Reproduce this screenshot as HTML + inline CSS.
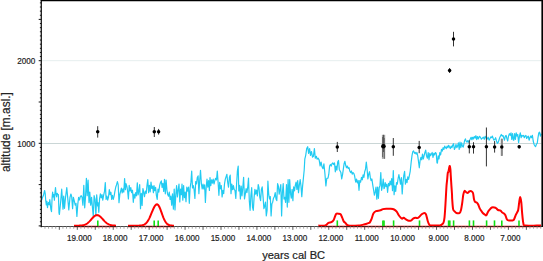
<!DOCTYPE html><html><head><meta charset="utf-8"><style>html,body{margin:0;padding:0;background:#fff;}svg{display:block}</style></head><body>
<svg width="543" height="261" viewBox="0 0 543 261" font-family="Liberation Sans, sans-serif">
<rect width="543" height="261" fill="#fff"/>
<line x1="41.3" y1="60.7" x2="541.3" y2="60.7" stroke="#e6eeee" stroke-width="1"/>
<line x1="41.3" y1="143.5" x2="541.3" y2="143.5" stroke="#cad6d6" stroke-width="1"/>
<polyline fill="none" stroke="#22cbf2" stroke-width="1.2" stroke-linejoin="round" points="41.7,200.2 42.3,197.9 43.4,195.6 44.6,190.5 45.2,193.3 45.7,200.2 46.3,204.8 46.9,201.4 47.5,207.7 48.0,203.7 48.6,202.5 49.2,204.8 49.8,199.7 50.3,204.3 50.9,209.4 51.5,211.7 52.1,197.9 52.6,192.2 53.2,196.8 53.8,194.5 54.4,200.2 54.9,193.3 55.5,187.6 56.1,194.5 56.7,196.8 57.2,193.3 57.8,194.5 58.4,194.5 59.0,212.9 59.4,214.5 60.7,201.4 61.7,189.2 63.0,209.1 63.7,196.1 64.5,208.3 65.6,196.8 66.8,187.7 67.9,199.9 68.8,209.9 70.0,197.4 70.9,194.0 71.7,196.6 72.6,208.6 73.4,197.4 74.3,200.9 75.2,205.2 76.0,203.4 76.9,216.4 77.8,204.3 78.6,197.4 79.5,200.0 80.3,196.6 81.2,195.7 82.1,197.4 82.9,205.2 83.8,185.3 84.7,207.8 85.5,197.4 86.4,178.4 87.2,195.7 88.1,180.2 89.0,202.6 89.8,192.2 90.7,205.2 91.6,197.4 92.4,206.9 93.3,216.5 94.1,195.7 95.0,199.1 95.9,215.5 96.7,194.8 97.6,206.0 98.0,202.6 98.8,212.3 99.6,198.6 100.4,193.8 101.2,197.8 102.0,194.6 102.8,200.2 103.6,195.4 104.5,191.4 105.3,182.5 106.1,199.4 106.9,196.2 107.7,200.2 108.5,197.0 109.3,189.7 110.1,194.6 110.9,192.2 111.7,199.4 112.5,195.4 113.3,199.4 114.1,196.2 114.9,191.4 115.7,187.3 116.5,184.9 117.4,181.7 118.2,184.9 119.0,202.6 119.8,194.6 120.6,191.4 121.4,188.1 122.2,193.0 123.0,188.9 123.8,192.2 124.6,178.5 125.4,189.7 126.0,183.7 126.8,186.1 127.6,191.0 128.4,199.0 129.2,185.3 130.0,191.0 130.8,187.7 131.6,192.6 132.5,190.2 133.3,202.3 134.1,194.2 134.9,198.2 135.7,192.6 136.5,195.8 137.3,182.9 138.1,195.0 138.9,191.0 139.7,184.5 140.5,208.7 141.3,193.4 142.1,205.5 142.9,188.5 143.7,191.8 144.5,196.6 145.4,191.0 146.2,193.4 147.0,185.3 147.8,179.7 148.6,192.6 149.4,185.3 150.2,191.8 151.0,182.1 151.8,188.5 152.6,186.1 153.4,192.6 154.0,185.7 154.8,190.6 155.6,187.4 156.4,195.4 157.2,199.5 158.0,189.0 158.8,192.2 159.6,185.7 160.5,182.5 161.3,180.9 162.1,187.4 162.9,183.3 163.7,191.4 164.5,179.3 165.3,193.8 166.1,180.1 166.9,189.8 167.7,194.6 168.5,196.2 169.3,192.2 170.1,199.5 170.9,196.2 171.7,205.1 172.5,193.8 173.4,209.1 174.2,189.0 175.0,209.9 175.8,194.6 176.6,185.7 177.4,197.0 178.2,189.8 179.0,184.1 179.8,201.9 180.6,189.0 181.4,194.6 182.0,184.0 182.8,200.1 183.6,185.6 184.4,197.7 185.2,192.0 186.0,201.7 186.8,187.2 187.6,191.2 188.5,187.2 189.3,203.3 190.1,188.0 190.9,182.4 191.7,171.1 192.5,188.0 193.3,185.6 194.1,189.6 194.9,198.5 195.7,181.5 196.5,184.0 197.3,177.5 198.1,175.9 198.9,193.6 199.7,180.7 200.5,170.3 201.4,184.0 202.2,188.8 203.0,184.0 203.8,188.8 204.6,184.8 205.4,202.5 206.2,187.2 207.0,179.1 207.8,187.2 208.6,180.7 209.4,190.4 210.0,177.5 210.8,185.6 211.6,179.9 212.4,183.2 213.2,179.1 214.0,184.0 214.8,180.7 215.6,178.3 216.5,179.9 217.3,171.1 218.1,182.4 218.9,195.3 219.7,182.4 220.5,188.8 221.3,185.6 222.1,196.9 222.9,190.4 223.7,193.6 224.5,184.0 225.3,179.1 226.1,176.7 226.9,174.3 227.7,182.4 228.5,187.2 229.4,177.5 230.2,175.1 231.0,193.6 231.8,184.0 232.6,189.6 233.4,185.6 234.2,189.6 235.0,190.4 235.8,198.5 236.6,184.0 237.4,171.1 238.2,166.0 238.8,191.0 239.6,185.3 240.4,199.0 241.2,186.1 242.0,195.8 242.8,187.7 243.6,177.3 244.5,199.0 245.3,194.2 246.1,188.5 246.9,192.6 247.7,187.7 248.5,178.1 249.3,200.6 250.1,210.3 250.9,195.8 251.7,187.7 252.5,207.1 253.3,210.3 254.1,197.4 254.9,189.4 255.7,194.2 256.5,190.2 257.4,195.8 258.2,184.5 259.0,187.7 259.8,197.4 260.6,200.6 261.4,189.4 262.2,186.9 263.1,197.4 263.9,208.6 264.7,206.2 265.5,202.2 266.3,215.9 267.1,210.3 267.9,181.2 268.7,194.1 269.5,199.0 270.3,196.5 271.1,215.9 271.9,203.8 272.7,202.2 273.5,198.2 274.4,196.5 275.2,192.5 276.0,199.0 276.8,200.6 277.6,183.6 278.4,186.1 279.2,194.1 280.0,189.4 280.8,184.5 281.6,216.0 282.4,192.6 283.2,183.7 284.0,199.0 284.8,197.4 285.6,202.3 286.5,184.5 287.3,207.1 288.1,179.7 288.9,202.3 289.7,179.7 290.5,193.4 291.3,198.2 292.1,189.4 292.9,200.6 293.7,186.9 294.5,191.0 295.3,185.3 296.1,182.1 296.9,189.4 297.7,180.5 298.5,192.6 299.4,184.5 300.2,179.7 301.0,186.1 301.8,196.6 302.6,186.1 303.4,178.1 304.2,170.0 304.8,159.2 305.7,155.3 306.7,148.6 307.7,146.7 308.6,153.4 309.6,148.6 310.5,155.3 311.5,151.5 312.5,157.2 313.4,156.3 314.4,148.6 315.3,158.2 316.3,156.3 317.2,159.2 318.2,158.2 319.2,160.1 320.1,165.9 321.1,162.0 322.0,166.8 323.0,168.7 323.9,163.9 324.9,173.5 325.9,186.0 326.8,178.3 328.0,178.2 328.8,174.2 329.6,166.1 330.4,164.5 331.2,166.1 332.0,163.7 332.8,162.9 333.6,164.5 334.5,162.9 335.3,171.8 336.1,166.1 336.9,170.2 337.7,162.1 338.5,160.5 339.3,169.4 340.1,171.0 340.9,172.6 341.7,179.0 342.5,175.0 343.3,169.4 344.1,163.7 344.9,161.3 345.7,165.3 346.5,167.7 347.4,166.1 348.2,168.5 349.0,167.7 349.8,171.0 350.6,172.6 351.4,171.0 352.2,174.2 353.0,172.6 353.8,173.4 354.6,175.8 355.4,180.6 355.8,182.2 356.6,179.0 357.4,183.0 358.2,180.6 359.0,190.3 359.8,180.6 360.6,182.2 361.5,177.4 362.3,179.8 363.1,174.9 363.9,177.4 364.7,171.7 365.5,169.3 366.3,162.0 367.1,169.3 367.9,179.0 368.7,174.1 369.5,171.7 370.3,177.4 371.1,180.6 371.9,179.0 372.7,184.6 373.5,189.5 374.4,195.1 375.2,191.9 376.0,187.0 376.8,199.1 377.6,187.0 378.4,198.3 379.2,187.8 380.0,185.4 380.8,172.5 381.6,190.3 382.4,186.2 383.2,179.0 384.0,188.6 384.4,188.2 385.2,182.6 386.0,186.6 386.8,184.2 387.6,192.3 388.5,183.4 389.3,185.8 390.1,181.0 390.9,185.0 391.7,178.5 392.5,190.6 393.3,170.5 394.1,194.7 394.9,185.8 395.7,191.5 396.5,182.6 397.3,184.2 398.1,178.5 398.9,174.5 399.7,179.4 400.5,184.2 401.4,177.7 402.2,193.9 403.0,182.6 403.8,175.3 404.6,171.3 405.4,184.2 406.2,179.4 407.0,182.6 407.8,176.9 408.6,179.4 409.4,175.3 410.2,171.3 411.2,162.0 412.0,155.7 412.8,151.7 413.6,150.9 414.5,153.3 415.3,152.5 416.1,154.1 416.9,152.5 417.7,155.7 418.5,161.4 419.3,167.8 420.1,160.6 420.9,157.4 421.7,159.8 422.5,154.1 423.3,159.0 424.1,155.7 424.9,152.5 425.7,150.1 426.5,155.7 427.4,158.2 428.2,152.5 429.0,159.8 429.8,153.3 430.6,155.7 431.4,154.1 432.2,152.5 433.0,157.4 433.8,153.3 434.6,154.9 435.4,152.5 436.2,153.3 437.0,163.0 437.4,163.1 438.2,155.8 439.0,159.0 439.8,152.6 440.6,155.0 441.5,149.4 442.3,151.0 443.1,147.7 443.9,149.4 444.7,146.1 445.5,147.7 446.3,148.5 447.1,146.1 447.9,147.7 448.7,145.3 449.5,146.9 450.3,148.5 451.1,146.1 451.9,147.7 452.7,145.3 453.5,143.7 454.4,149.4 455.2,147.7 456.0,144.5 456.8,147.7 457.6,146.1 458.4,142.9 459.2,149.4 460.0,142.1 460.8,147.7 461.6,142.9 462.4,146.1 463.2,147.0 463.8,144.6 464.6,140.5 465.4,138.9 466.2,141.4 467.0,142.2 467.8,140.5 468.6,142.2 469.5,140.5 470.3,138.9 471.1,137.3 471.9,139.7 472.7,137.3 473.5,138.9 474.3,136.5 475.1,138.1 475.9,135.7 476.7,139.7 477.5,136.5 478.3,138.9 479.5,136.3 480.4,137.2 481.4,139.2 482.4,138.2 483.3,137.2 484.3,139.2 485.2,136.3 486.2,138.2 487.1,139.2 488.1,137.2 489.1,140.1 490.0,138.5 490.8,136.9 491.6,137.7 492.4,136.1 493.2,138.5 494.0,140.2 494.8,139.4 495.6,137.7 496.5,141.0 497.3,143.4 498.1,142.6 498.9,140.2 499.7,137.7 500.5,136.1 501.3,134.5 502.1,136.1 502.9,135.3 503.7,137.7 504.5,140.2 505.3,136.1 506.1,135.3 506.9,138.5 507.7,141.0 508.5,136.1 509.4,133.7 510.2,135.3 511.0,132.9 511.8,139.4 512.6,133.7 513.4,140.2 513.8,140.2 514.6,133.7 515.4,139.4 516.2,132.9 517.0,136.1 517.8,134.5 518.6,142.6 519.5,136.1 520.3,132.9 521.1,137.7 521.9,135.3 522.7,136.1 523.5,135.3 524.3,137.7 525.1,136.1 525.9,135.3 526.7,138.5 527.5,136.9 528.3,136.1 529.1,140.2 529.9,137.7 530.7,136.1 531.5,137.7 532.4,135.3 533.2,141.0 534.0,144.2 534.8,145.8 535.6,146.6 536.4,144.2 537.2,143.4 538.0,137.7 538.8,132.9 539.6,132.1 540.4,136.1 541.2,133.7"/>
<polyline fill="none" stroke="#ff0000" stroke-width="2" stroke-linejoin="round" points="74.00,225.70 74.50,225.70 75.00,225.70 75.50,225.69 76.00,225.69 76.50,225.69 77.00,225.68 77.50,225.68 78.00,225.67 78.50,225.65 79.00,225.64 79.50,225.62 80.00,225.59 80.50,225.56 81.00,225.52 81.50,225.47 82.00,225.41 82.50,225.33 83.00,225.23 83.50,225.12 84.00,224.98 84.50,224.82 85.00,224.63 85.50,224.41 86.00,224.16 86.50,223.87 87.00,223.55 87.50,223.19 88.00,222.79 88.50,222.35 89.00,221.88 89.50,221.38 90.00,220.85 90.50,220.30 91.00,219.73 91.50,219.16 92.00,218.58 92.50,218.02 93.00,217.49 93.50,216.98 94.00,216.52 94.50,216.11 95.00,215.75 95.50,215.47 96.00,215.27 96.50,215.14 97.00,215.10 97.50,215.14 98.00,215.26 98.50,215.45 99.00,215.71 99.50,216.04 100.00,216.43 100.50,216.86 101.00,217.34 101.50,217.86 102.00,218.39 102.50,218.94 103.00,219.49 103.50,220.04 104.00,220.58 104.50,221.11 105.00,221.61 105.50,222.08 106.00,222.52 106.50,222.93 107.00,223.30 107.50,223.64 108.00,223.95 108.50,224.22 109.00,224.45 109.50,224.66 110.00,224.84 110.50,224.99 111.00,225.12 111.50,225.23 112.00,225.33 112.50,225.40 113.00,225.46 113.50,225.51 114.00,225.56 114.50,225.59 115.00,225.61 115.50,225.63 116.00,225.65"/>
<polyline fill="none" stroke="#ff0000" stroke-width="2" stroke-linejoin="round" points="128.00,225.70 128.50,225.70 129.00,225.70 129.50,225.70 130.00,225.70 130.50,225.70 131.00,225.70 131.50,225.70 132.00,225.70 132.50,225.70 133.00,225.70 133.50,225.70 134.00,225.70 134.50,225.70 135.00,225.70 135.50,225.69 136.00,225.69 136.50,225.69 137.00,225.68 137.50,225.68 138.00,225.67 138.50,225.65 139.00,225.63 139.50,225.61 140.00,225.58 140.50,225.53 141.00,225.48 141.50,225.40 142.00,225.31 142.50,225.19 143.00,225.05 143.50,224.87 144.00,224.64 144.50,224.37 145.00,224.05 145.50,223.67 146.00,223.22 146.50,222.69 147.00,222.09 147.50,221.41 148.00,220.64 148.50,219.79 149.00,218.85 149.50,217.84 150.00,216.75 150.50,215.61 151.00,214.42 151.50,213.21 152.00,211.99 152.50,210.78 153.00,209.60 153.50,208.49 154.00,207.47 154.50,206.55 155.00,205.77 155.50,205.14 156.00,204.68 156.50,204.40 157.00,204.30 157.50,204.43 158.00,204.80 158.50,205.41 159.00,206.23 159.50,207.24 160.00,208.40 160.50,209.68 161.00,211.04 161.50,212.44 162.00,213.85 162.50,215.23 163.00,216.56 163.50,217.81 164.00,218.98 164.50,220.04 165.00,220.98 165.50,221.82 166.00,222.54 166.50,223.16 167.00,223.69 167.50,224.12 168.00,224.47 168.50,224.76 169.00,224.99 169.50,225.17 170.00,225.31 170.50,225.41 171.00,225.49 171.50,225.55 172.00,225.59 172.50,225.63 173.00,225.65 173.50,225.67 174.00,225.68"/>
<path fill="none" stroke="#ff0000" stroke-width="2" stroke-linejoin="round" d="M318.40,225.60 C319.55,225.58 323.63,225.95 325.30,225.50 C326.97,225.05 327.38,223.45 328.40,222.90 C329.42,222.35 330.52,222.70 331.40,222.20 C332.28,221.70 332.93,221.23 333.70,219.90 C334.47,218.57 335.23,215.23 336.00,214.20 C336.77,213.17 337.53,213.70 338.30,213.70 C339.07,213.70 339.95,213.55 340.60,214.20 C341.25,214.85 341.68,216.40 342.20,217.60 C342.72,218.80 343.15,220.52 343.70,221.40 C344.25,222.28 344.73,222.20 345.50,222.90 C346.27,223.60 346.05,225.15 348.30,225.60 C350.55,226.05 356.70,225.72 359.00,225.60 C361.30,225.48 360.95,225.17 362.10,224.90 C363.25,224.63 364.75,224.33 365.90,224.00 C367.05,223.67 368.32,223.22 369.00,222.90 C369.68,222.58 369.55,222.82 370.00,222.10 C370.45,221.38 371.13,220.05 371.70,218.60 C372.27,217.15 372.68,214.63 373.40,213.40 C374.12,212.17 374.98,211.68 376.00,211.20 C377.02,210.72 378.63,210.70 379.50,210.50 C380.37,210.30 380.63,210.23 381.20,210.00 C381.77,209.77 382.03,209.30 382.90,209.10 C383.77,208.90 385.10,208.85 386.40,208.80 C387.70,208.75 389.42,208.68 390.70,208.80 C391.98,208.92 393.10,209.02 394.10,209.50 C395.10,209.98 395.83,210.62 396.70,211.70 C397.57,212.78 398.43,214.85 399.30,216.00 C400.17,217.15 401.18,218.30 401.90,218.60 C402.62,218.90 402.88,217.65 403.60,217.80 C404.32,217.95 405.33,219.02 406.20,219.50 C407.07,219.98 407.93,220.57 408.80,220.70 C409.67,220.83 410.68,220.65 411.40,220.30 C412.12,219.95 412.38,219.02 413.10,218.60 C413.82,218.18 414.98,217.88 415.70,217.80 C416.42,217.72 416.83,218.25 417.40,218.10 C417.97,217.95 418.38,217.53 419.10,216.90 C419.82,216.27 420.83,214.97 421.70,214.30 C422.57,213.63 423.58,212.90 424.30,212.90 C425.02,212.90 425.42,212.92 426.00,214.30 C426.58,215.68 427.22,219.42 427.80,221.20 C428.38,222.98 428.78,224.28 429.50,225.00 C430.22,225.72 430.35,225.42 432.10,225.50 C433.85,225.58 438.50,225.60 440.00,225.50 C441.50,225.40 440.53,225.33 441.10,224.90 C441.67,224.47 442.83,224.12 443.40,222.90 C443.97,221.68 444.17,220.53 444.50,217.60 C444.83,214.67 445.15,209.13 445.40,205.30 C445.65,201.47 445.82,197.82 446.00,194.60 C446.18,191.38 446.32,188.42 446.50,186.00 C446.68,183.58 446.88,182.30 447.10,180.10 C447.32,177.90 447.58,174.13 447.80,172.80 C448.02,171.47 448.18,172.88 448.40,172.10 C448.62,171.32 448.87,169.12 449.10,168.10 C449.33,167.08 449.58,165.78 449.80,166.00 C450.02,166.22 450.23,167.72 450.40,169.40 C450.57,171.08 450.63,173.42 450.80,176.10 C450.97,178.78 451.20,182.48 451.40,185.50 C451.60,188.52 451.87,191.92 452.00,194.20 C452.13,196.48 452.02,196.72 452.20,199.20 C452.38,201.68 452.70,207.07 453.10,209.10 C453.50,211.13 454.05,210.75 454.60,211.40 C455.15,212.05 455.58,212.73 456.40,213.00 C457.22,213.27 458.73,213.52 459.50,213.00 C460.27,212.48 460.53,211.68 461.00,209.90 C461.47,208.12 461.92,204.85 462.30,202.30 C462.68,199.75 462.93,196.50 463.30,194.60 C463.67,192.70 464.03,191.30 464.50,190.90 C464.97,190.50 465.53,191.87 466.10,192.20 C466.67,192.53 467.38,193.02 467.90,192.90 C468.42,192.78 468.65,191.80 469.20,191.50 C469.75,191.20 470.57,190.85 471.20,191.10 C471.83,191.35 472.53,191.65 473.00,193.00 C473.47,194.35 473.65,197.72 474.00,199.20 C474.35,200.68 474.65,201.33 475.10,201.90 C475.55,202.47 476.18,202.17 476.70,202.60 C477.22,203.03 477.70,203.53 478.20,204.50 C478.70,205.47 479.20,207.37 479.70,208.40 C480.20,209.43 480.68,209.93 481.20,210.70 C481.72,211.47 482.20,212.37 482.80,213.00 C483.40,213.63 484.22,214.12 484.80,214.50 C485.38,214.88 485.80,215.68 486.30,215.30 C486.80,214.92 487.28,213.10 487.80,212.20 C488.32,211.30 488.72,210.68 489.40,209.90 C490.08,209.12 491.05,207.90 491.90,207.50 C492.75,207.10 493.78,207.37 494.50,207.50 C495.22,207.63 495.62,207.88 496.20,208.30 C496.78,208.72 497.28,209.62 498.00,210.00 C498.72,210.38 499.78,210.17 500.50,210.60 C501.22,211.03 501.72,212.12 502.30,212.60 C502.88,213.08 503.48,213.07 504.00,213.50 C504.52,213.93 504.97,214.33 505.40,215.20 C505.83,216.07 506.12,217.83 506.60,218.70 C507.08,219.57 507.30,220.12 508.30,220.40 C509.30,220.68 511.65,220.55 512.60,220.40 C513.55,220.25 513.48,220.37 514.00,219.50 C514.52,218.63 515.20,216.35 515.70,215.20 C516.20,214.05 516.58,213.47 517.00,212.60 C517.42,211.73 517.83,211.72 518.20,210.00 C518.57,208.28 518.87,204.45 519.20,202.30 C519.53,200.15 519.85,197.10 520.20,197.10 C520.55,197.10 520.98,199.72 521.30,202.30 C521.62,204.88 521.77,209.15 522.10,212.60 C522.43,216.05 522.80,220.83 523.30,223.00 C523.80,225.17 522.85,225.17 525.10,225.60 C527.35,226.03 534.15,225.60 536.80,225.60 C539.45,225.60 540.30,225.60 541.00,225.60"/>
<line x1="74" y1="226.5" x2="116" y2="226.5" stroke="#ff0000" stroke-width="1.3"/>
<line x1="128" y1="226.5" x2="174" y2="226.5" stroke="#ff0000" stroke-width="1.3"/>
<line x1="318.4" y1="226.5" x2="541.3" y2="226.5" stroke="#ff0000" stroke-width="1.3"/>
<line x1="97.8" y1="220.4" x2="97.8" y2="226" stroke="#12e012" stroke-width="1.6"/>
<line x1="154.2" y1="220.4" x2="154.2" y2="226" stroke="#12e012" stroke-width="1.6"/>
<line x1="158.2" y1="220.4" x2="158.2" y2="226" stroke="#12e012" stroke-width="1.6"/>
<line x1="337.3" y1="220.4" x2="337.3" y2="226" stroke="#12e012" stroke-width="1.6"/>
<line x1="382.9" y1="220.4" x2="382.9" y2="226" stroke="#12e012" stroke-width="1.6"/>
<line x1="384.0" y1="220.4" x2="384.0" y2="226" stroke="#12e012" stroke-width="1.6"/>
<line x1="393.6" y1="220.4" x2="393.6" y2="226" stroke="#12e012" stroke-width="1.6"/>
<line x1="419.5" y1="220.4" x2="419.5" y2="226" stroke="#12e012" stroke-width="1.6"/>
<line x1="448.6" y1="220.4" x2="448.6" y2="226" stroke="#12e012" stroke-width="1.6"/>
<line x1="449.8" y1="220.4" x2="449.8" y2="226" stroke="#12e012" stroke-width="1.6"/>
<line x1="453.6" y1="220.4" x2="453.6" y2="226" stroke="#12e012" stroke-width="1.6"/>
<line x1="469.4" y1="220.4" x2="469.4" y2="226" stroke="#12e012" stroke-width="1.6"/>
<line x1="473.5" y1="220.4" x2="473.5" y2="226" stroke="#12e012" stroke-width="1.6"/>
<line x1="486.6" y1="220.4" x2="486.6" y2="226" stroke="#12e012" stroke-width="1.6"/>
<line x1="494.5" y1="220.4" x2="494.5" y2="226" stroke="#12e012" stroke-width="1.6"/>
<line x1="501.8" y1="220.4" x2="501.8" y2="226" stroke="#12e012" stroke-width="1.6"/>
<line x1="519.0" y1="220.4" x2="519.0" y2="226" stroke="#12e012" stroke-width="1.6"/>
<line x1="97.7" y1="126.2" x2="97.7" y2="137.6" stroke="#333" stroke-width="1"/>
<line x1="154.3" y1="127" x2="154.3" y2="137" stroke="#333" stroke-width="1"/>
<line x1="158.6" y1="128.9" x2="158.6" y2="134.6" stroke="#333" stroke-width="1"/>
<line x1="337.3" y1="141.9" x2="337.3" y2="152" stroke="#333" stroke-width="1"/>
<line x1="393.3" y1="138" x2="393.3" y2="155.8" stroke="#333" stroke-width="1"/>
<line x1="419.2" y1="140.9" x2="419.2" y2="153.2" stroke="#333" stroke-width="1"/>
<line x1="453.5" y1="31.8" x2="453.5" y2="46.4" stroke="#333" stroke-width="1"/>
<line x1="449.6" y1="68" x2="449.6" y2="73" stroke="#333" stroke-width="1"/>
<line x1="469.3" y1="140.3" x2="469.3" y2="153.4" stroke="#333" stroke-width="1"/>
<line x1="473.5" y1="142.2" x2="473.5" y2="153.6" stroke="#333" stroke-width="1"/>
<line x1="486.4" y1="127.5" x2="486.4" y2="166.4" stroke="#333" stroke-width="1"/>
<line x1="494.6" y1="141.1" x2="494.6" y2="152.6" stroke="#333" stroke-width="1"/>
<line x1="501.8" y1="138.8" x2="501.8" y2="155.7" stroke="#333" stroke-width="1"/>
<line x1="519.2" y1="145" x2="519.2" y2="148.6" stroke="#333" stroke-width="1"/>
<rect x="381.9" y="134.8" width="3.3" height="24" fill="#a0a0a0"/>
<line x1="382.6" y1="137" x2="382.6" y2="157" stroke="#555" stroke-width="0.8"/>
<line x1="384.5" y1="138" x2="384.5" y2="158.8" stroke="#666" stroke-width="0.8"/>
<line x1="383.5" y1="134.8" x2="383.5" y2="152" stroke="#444" stroke-width="0.8"/>
<rect x="500.8" y="138.8" width="2" height="17" fill="#888"/>
<circle cx="97.7" cy="131.8" r="1.75" fill="#000"/>
<circle cx="154.3" cy="131.8" r="1.75" fill="#000"/>
<circle cx="158.6" cy="131.8" r="1.75" fill="#000"/>
<circle cx="337.3" cy="147" r="1.75" fill="#000"/>
<circle cx="393.3" cy="146.8" r="1.75" fill="#000"/>
<circle cx="419.2" cy="147.4" r="1.75" fill="#000"/>
<circle cx="453.5" cy="39.1" r="1.75" fill="#000"/>
<circle cx="449.6" cy="70.5" r="1.75" fill="#000"/>
<circle cx="469.3" cy="146.8" r="1.75" fill="#000"/>
<circle cx="473.5" cy="146.8" r="1.75" fill="#000"/>
<circle cx="486.4" cy="146.8" r="1.75" fill="#000"/>
<circle cx="494.6" cy="147.1" r="1.75" fill="#000"/>
<circle cx="501.8" cy="147.1" r="1.75" fill="#000"/>
<circle cx="519.2" cy="146.8" r="1.75" fill="#000"/>
<circle cx="383.4" cy="146.3" r="2.3" fill="#000"/>
<line x1="41.3" y1="0" x2="41.3" y2="227.2" stroke="#1a1a1a" stroke-width="1.3"/>
<line x1="40.699999999999996" y1="226.5" x2="541.9" y2="226.5" stroke="#1a1a1a" stroke-width="1.1" stroke-opacity="0.8"/>
<line x1="40.699999999999996" y1="0.6" x2="541.9" y2="0.6" stroke="#000" stroke-width="1.4"/>
<rect x="541.4" y="0" width="1.6" height="227" fill="#000"/>
<line x1="38.70" y1="225.90" x2="41.3" y2="225.90" stroke="#111" stroke-width="1"/>
<line x1="39.90" y1="221.77" x2="41.3" y2="221.77" stroke="#111" stroke-width="1"/>
<line x1="39.90" y1="217.64" x2="41.3" y2="217.64" stroke="#111" stroke-width="1"/>
<line x1="39.90" y1="213.51" x2="41.3" y2="213.51" stroke="#111" stroke-width="1"/>
<line x1="39.90" y1="209.38" x2="41.3" y2="209.38" stroke="#111" stroke-width="1"/>
<line x1="39.90" y1="205.25" x2="41.3" y2="205.25" stroke="#111" stroke-width="1"/>
<line x1="39.90" y1="201.12" x2="41.3" y2="201.12" stroke="#111" stroke-width="1"/>
<line x1="39.90" y1="196.99" x2="41.3" y2="196.99" stroke="#111" stroke-width="1"/>
<line x1="39.90" y1="192.86" x2="41.3" y2="192.86" stroke="#111" stroke-width="1"/>
<line x1="39.90" y1="188.73" x2="41.3" y2="188.73" stroke="#111" stroke-width="1"/>
<line x1="38.70" y1="184.60" x2="41.3" y2="184.60" stroke="#111" stroke-width="1"/>
<line x1="39.90" y1="180.47" x2="41.3" y2="180.47" stroke="#111" stroke-width="1"/>
<line x1="39.90" y1="176.34" x2="41.3" y2="176.34" stroke="#111" stroke-width="1"/>
<line x1="39.90" y1="172.21" x2="41.3" y2="172.21" stroke="#111" stroke-width="1"/>
<line x1="39.90" y1="168.08" x2="41.3" y2="168.08" stroke="#111" stroke-width="1"/>
<line x1="39.90" y1="163.95" x2="41.3" y2="163.95" stroke="#111" stroke-width="1"/>
<line x1="39.90" y1="159.82" x2="41.3" y2="159.82" stroke="#111" stroke-width="1"/>
<line x1="39.90" y1="155.69" x2="41.3" y2="155.69" stroke="#111" stroke-width="1"/>
<line x1="39.90" y1="151.56" x2="41.3" y2="151.56" stroke="#111" stroke-width="1"/>
<line x1="39.90" y1="147.43" x2="41.3" y2="147.43" stroke="#111" stroke-width="1"/>
<line x1="38.70" y1="143.30" x2="41.3" y2="143.30" stroke="#111" stroke-width="1"/>
<line x1="39.90" y1="139.17" x2="41.3" y2="139.17" stroke="#111" stroke-width="1"/>
<line x1="39.90" y1="135.04" x2="41.3" y2="135.04" stroke="#111" stroke-width="1"/>
<line x1="39.90" y1="130.91" x2="41.3" y2="130.91" stroke="#111" stroke-width="1"/>
<line x1="39.90" y1="126.78" x2="41.3" y2="126.78" stroke="#111" stroke-width="1"/>
<line x1="39.90" y1="122.65" x2="41.3" y2="122.65" stroke="#111" stroke-width="1"/>
<line x1="39.90" y1="118.52" x2="41.3" y2="118.52" stroke="#111" stroke-width="1"/>
<line x1="39.90" y1="114.39" x2="41.3" y2="114.39" stroke="#111" stroke-width="1"/>
<line x1="39.90" y1="110.26" x2="41.3" y2="110.26" stroke="#111" stroke-width="1"/>
<line x1="39.90" y1="106.13" x2="41.3" y2="106.13" stroke="#111" stroke-width="1"/>
<line x1="38.70" y1="102.00" x2="41.3" y2="102.00" stroke="#111" stroke-width="1"/>
<line x1="39.90" y1="97.87" x2="41.3" y2="97.87" stroke="#111" stroke-width="1"/>
<line x1="39.90" y1="93.74" x2="41.3" y2="93.74" stroke="#111" stroke-width="1"/>
<line x1="39.90" y1="89.61" x2="41.3" y2="89.61" stroke="#111" stroke-width="1"/>
<line x1="39.90" y1="85.48" x2="41.3" y2="85.48" stroke="#111" stroke-width="1"/>
<line x1="39.90" y1="81.35" x2="41.3" y2="81.35" stroke="#111" stroke-width="1"/>
<line x1="39.90" y1="77.22" x2="41.3" y2="77.22" stroke="#111" stroke-width="1"/>
<line x1="39.90" y1="73.09" x2="41.3" y2="73.09" stroke="#111" stroke-width="1"/>
<line x1="39.90" y1="68.96" x2="41.3" y2="68.96" stroke="#111" stroke-width="1"/>
<line x1="39.90" y1="64.83" x2="41.3" y2="64.83" stroke="#111" stroke-width="1"/>
<line x1="38.70" y1="60.70" x2="41.3" y2="60.70" stroke="#111" stroke-width="1"/>
<line x1="39.90" y1="56.57" x2="41.3" y2="56.57" stroke="#111" stroke-width="1"/>
<line x1="39.90" y1="52.44" x2="41.3" y2="52.44" stroke="#111" stroke-width="1"/>
<line x1="39.90" y1="48.31" x2="41.3" y2="48.31" stroke="#111" stroke-width="1"/>
<line x1="39.90" y1="44.18" x2="41.3" y2="44.18" stroke="#111" stroke-width="1"/>
<line x1="39.90" y1="40.05" x2="41.3" y2="40.05" stroke="#111" stroke-width="1"/>
<line x1="39.90" y1="35.92" x2="41.3" y2="35.92" stroke="#111" stroke-width="1"/>
<line x1="39.90" y1="31.79" x2="41.3" y2="31.79" stroke="#111" stroke-width="1"/>
<line x1="39.90" y1="27.66" x2="41.3" y2="27.66" stroke="#111" stroke-width="1"/>
<line x1="39.90" y1="23.53" x2="41.3" y2="23.53" stroke="#111" stroke-width="1"/>
<line x1="38.70" y1="19.40" x2="41.3" y2="19.40" stroke="#111" stroke-width="1"/>
<line x1="39.90" y1="15.27" x2="41.3" y2="15.27" stroke="#111" stroke-width="1"/>
<line x1="39.90" y1="11.14" x2="41.3" y2="11.14" stroke="#111" stroke-width="1"/>
<line x1="39.90" y1="7.01" x2="41.3" y2="7.01" stroke="#111" stroke-width="1"/>
<line x1="39.90" y1="2.88" x2="41.3" y2="2.88" stroke="#111" stroke-width="1"/>
<line x1="44.97" y1="226.5" x2="44.97" y2="228.70" stroke="#999" stroke-width="0.9"/>
<line x1="48.56" y1="226.5" x2="48.56" y2="228.70" stroke="#999" stroke-width="0.9"/>
<line x1="52.15" y1="226.5" x2="52.15" y2="228.70" stroke="#999" stroke-width="0.9"/>
<line x1="55.74" y1="226.5" x2="55.74" y2="228.70" stroke="#999" stroke-width="0.9"/>
<line x1="59.34" y1="226.5" x2="59.34" y2="229.80" stroke="#444" stroke-width="0.9"/>
<line x1="62.93" y1="226.5" x2="62.93" y2="228.70" stroke="#999" stroke-width="0.9"/>
<line x1="66.52" y1="226.5" x2="66.52" y2="228.70" stroke="#999" stroke-width="0.9"/>
<line x1="70.11" y1="226.5" x2="70.11" y2="228.70" stroke="#999" stroke-width="0.9"/>
<line x1="73.71" y1="226.5" x2="73.71" y2="228.70" stroke="#999" stroke-width="0.9"/>
<line x1="77.30" y1="226.5" x2="77.30" y2="229.80" stroke="#444" stroke-width="0.9"/>
<line x1="80.89" y1="226.5" x2="80.89" y2="228.70" stroke="#999" stroke-width="0.9"/>
<line x1="84.48" y1="226.5" x2="84.48" y2="228.70" stroke="#999" stroke-width="0.9"/>
<line x1="88.08" y1="226.5" x2="88.08" y2="228.70" stroke="#999" stroke-width="0.9"/>
<line x1="91.67" y1="226.5" x2="91.67" y2="228.70" stroke="#999" stroke-width="0.9"/>
<line x1="95.26" y1="226.5" x2="95.26" y2="229.80" stroke="#444" stroke-width="0.9"/>
<line x1="98.85" y1="226.5" x2="98.85" y2="228.70" stroke="#999" stroke-width="0.9"/>
<line x1="102.45" y1="226.5" x2="102.45" y2="228.70" stroke="#999" stroke-width="0.9"/>
<line x1="106.04" y1="226.5" x2="106.04" y2="228.70" stroke="#999" stroke-width="0.9"/>
<line x1="109.63" y1="226.5" x2="109.63" y2="228.70" stroke="#999" stroke-width="0.9"/>
<line x1="113.22" y1="226.5" x2="113.22" y2="229.80" stroke="#444" stroke-width="0.9"/>
<line x1="116.82" y1="226.5" x2="116.82" y2="228.70" stroke="#999" stroke-width="0.9"/>
<line x1="120.41" y1="226.5" x2="120.41" y2="228.70" stroke="#999" stroke-width="0.9"/>
<line x1="124.00" y1="226.5" x2="124.00" y2="228.70" stroke="#999" stroke-width="0.9"/>
<line x1="127.59" y1="226.5" x2="127.59" y2="228.70" stroke="#999" stroke-width="0.9"/>
<line x1="131.19" y1="226.5" x2="131.19" y2="229.80" stroke="#444" stroke-width="0.9"/>
<line x1="134.78" y1="226.5" x2="134.78" y2="228.70" stroke="#999" stroke-width="0.9"/>
<line x1="138.37" y1="226.5" x2="138.37" y2="228.70" stroke="#999" stroke-width="0.9"/>
<line x1="141.96" y1="226.5" x2="141.96" y2="228.70" stroke="#999" stroke-width="0.9"/>
<line x1="145.56" y1="226.5" x2="145.56" y2="228.70" stroke="#999" stroke-width="0.9"/>
<line x1="149.15" y1="226.5" x2="149.15" y2="229.80" stroke="#444" stroke-width="0.9"/>
<line x1="152.74" y1="226.5" x2="152.74" y2="228.70" stroke="#999" stroke-width="0.9"/>
<line x1="156.33" y1="226.5" x2="156.33" y2="228.70" stroke="#999" stroke-width="0.9"/>
<line x1="159.93" y1="226.5" x2="159.93" y2="228.70" stroke="#999" stroke-width="0.9"/>
<line x1="163.52" y1="226.5" x2="163.52" y2="228.70" stroke="#999" stroke-width="0.9"/>
<line x1="167.11" y1="226.5" x2="167.11" y2="229.80" stroke="#444" stroke-width="0.9"/>
<line x1="170.70" y1="226.5" x2="170.70" y2="228.70" stroke="#999" stroke-width="0.9"/>
<line x1="174.30" y1="226.5" x2="174.30" y2="228.70" stroke="#999" stroke-width="0.9"/>
<line x1="177.89" y1="226.5" x2="177.89" y2="228.70" stroke="#999" stroke-width="0.9"/>
<line x1="181.48" y1="226.5" x2="181.48" y2="228.70" stroke="#999" stroke-width="0.9"/>
<line x1="185.07" y1="226.5" x2="185.07" y2="229.80" stroke="#444" stroke-width="0.9"/>
<line x1="188.67" y1="226.5" x2="188.67" y2="228.70" stroke="#999" stroke-width="0.9"/>
<line x1="192.26" y1="226.5" x2="192.26" y2="228.70" stroke="#999" stroke-width="0.9"/>
<line x1="195.85" y1="226.5" x2="195.85" y2="228.70" stroke="#999" stroke-width="0.9"/>
<line x1="199.44" y1="226.5" x2="199.44" y2="228.70" stroke="#999" stroke-width="0.9"/>
<line x1="203.04" y1="226.5" x2="203.04" y2="229.80" stroke="#444" stroke-width="0.9"/>
<line x1="206.63" y1="226.5" x2="206.63" y2="228.70" stroke="#999" stroke-width="0.9"/>
<line x1="210.22" y1="226.5" x2="210.22" y2="228.70" stroke="#999" stroke-width="0.9"/>
<line x1="213.81" y1="226.5" x2="213.81" y2="228.70" stroke="#999" stroke-width="0.9"/>
<line x1="217.41" y1="226.5" x2="217.41" y2="228.70" stroke="#999" stroke-width="0.9"/>
<line x1="221.00" y1="226.5" x2="221.00" y2="229.80" stroke="#444" stroke-width="0.9"/>
<line x1="224.59" y1="226.5" x2="224.59" y2="228.70" stroke="#999" stroke-width="0.9"/>
<line x1="228.19" y1="226.5" x2="228.19" y2="228.70" stroke="#999" stroke-width="0.9"/>
<line x1="231.78" y1="226.5" x2="231.78" y2="228.70" stroke="#999" stroke-width="0.9"/>
<line x1="235.37" y1="226.5" x2="235.37" y2="228.70" stroke="#999" stroke-width="0.9"/>
<line x1="238.96" y1="226.5" x2="238.96" y2="229.80" stroke="#444" stroke-width="0.9"/>
<line x1="242.56" y1="226.5" x2="242.56" y2="228.70" stroke="#999" stroke-width="0.9"/>
<line x1="246.15" y1="226.5" x2="246.15" y2="228.70" stroke="#999" stroke-width="0.9"/>
<line x1="249.74" y1="226.5" x2="249.74" y2="228.70" stroke="#999" stroke-width="0.9"/>
<line x1="253.33" y1="226.5" x2="253.33" y2="228.70" stroke="#999" stroke-width="0.9"/>
<line x1="256.93" y1="226.5" x2="256.93" y2="229.80" stroke="#444" stroke-width="0.9"/>
<line x1="260.52" y1="226.5" x2="260.52" y2="228.70" stroke="#999" stroke-width="0.9"/>
<line x1="264.11" y1="226.5" x2="264.11" y2="228.70" stroke="#999" stroke-width="0.9"/>
<line x1="267.70" y1="226.5" x2="267.70" y2="228.70" stroke="#999" stroke-width="0.9"/>
<line x1="271.30" y1="226.5" x2="271.30" y2="228.70" stroke="#999" stroke-width="0.9"/>
<line x1="274.89" y1="226.5" x2="274.89" y2="229.80" stroke="#444" stroke-width="0.9"/>
<line x1="278.48" y1="226.5" x2="278.48" y2="228.70" stroke="#999" stroke-width="0.9"/>
<line x1="282.07" y1="226.5" x2="282.07" y2="228.70" stroke="#999" stroke-width="0.9"/>
<line x1="285.66" y1="226.5" x2="285.66" y2="228.70" stroke="#999" stroke-width="0.9"/>
<line x1="289.26" y1="226.5" x2="289.26" y2="228.70" stroke="#999" stroke-width="0.9"/>
<line x1="292.85" y1="226.5" x2="292.85" y2="229.80" stroke="#444" stroke-width="0.9"/>
<line x1="296.44" y1="226.5" x2="296.44" y2="228.70" stroke="#999" stroke-width="0.9"/>
<line x1="300.03" y1="226.5" x2="300.03" y2="228.70" stroke="#999" stroke-width="0.9"/>
<line x1="303.63" y1="226.5" x2="303.63" y2="228.70" stroke="#999" stroke-width="0.9"/>
<line x1="307.22" y1="226.5" x2="307.22" y2="228.70" stroke="#999" stroke-width="0.9"/>
<line x1="310.81" y1="226.5" x2="310.81" y2="229.80" stroke="#444" stroke-width="0.9"/>
<line x1="314.40" y1="226.5" x2="314.40" y2="228.70" stroke="#999" stroke-width="0.9"/>
<line x1="318.00" y1="226.5" x2="318.00" y2="228.70" stroke="#999" stroke-width="0.9"/>
<line x1="321.59" y1="226.5" x2="321.59" y2="228.70" stroke="#999" stroke-width="0.9"/>
<line x1="325.18" y1="226.5" x2="325.18" y2="228.70" stroke="#999" stroke-width="0.9"/>
<line x1="328.77" y1="226.5" x2="328.77" y2="229.80" stroke="#444" stroke-width="0.9"/>
<line x1="332.37" y1="226.5" x2="332.37" y2="228.70" stroke="#999" stroke-width="0.9"/>
<line x1="335.96" y1="226.5" x2="335.96" y2="228.70" stroke="#999" stroke-width="0.9"/>
<line x1="339.55" y1="226.5" x2="339.55" y2="228.70" stroke="#999" stroke-width="0.9"/>
<line x1="343.14" y1="226.5" x2="343.14" y2="228.70" stroke="#999" stroke-width="0.9"/>
<line x1="346.74" y1="226.5" x2="346.74" y2="229.80" stroke="#444" stroke-width="0.9"/>
<line x1="350.33" y1="226.5" x2="350.33" y2="228.70" stroke="#999" stroke-width="0.9"/>
<line x1="353.92" y1="226.5" x2="353.92" y2="228.70" stroke="#999" stroke-width="0.9"/>
<line x1="357.51" y1="226.5" x2="357.51" y2="228.70" stroke="#999" stroke-width="0.9"/>
<line x1="361.11" y1="226.5" x2="361.11" y2="228.70" stroke="#999" stroke-width="0.9"/>
<line x1="364.70" y1="226.5" x2="364.70" y2="229.80" stroke="#444" stroke-width="0.9"/>
<line x1="368.29" y1="226.5" x2="368.29" y2="228.70" stroke="#999" stroke-width="0.9"/>
<line x1="371.88" y1="226.5" x2="371.88" y2="228.70" stroke="#999" stroke-width="0.9"/>
<line x1="375.48" y1="226.5" x2="375.48" y2="228.70" stroke="#999" stroke-width="0.9"/>
<line x1="379.07" y1="226.5" x2="379.07" y2="228.70" stroke="#999" stroke-width="0.9"/>
<line x1="382.66" y1="226.5" x2="382.66" y2="229.80" stroke="#444" stroke-width="0.9"/>
<line x1="386.25" y1="226.5" x2="386.25" y2="228.70" stroke="#999" stroke-width="0.9"/>
<line x1="389.85" y1="226.5" x2="389.85" y2="228.70" stroke="#999" stroke-width="0.9"/>
<line x1="393.44" y1="226.5" x2="393.44" y2="228.70" stroke="#999" stroke-width="0.9"/>
<line x1="397.03" y1="226.5" x2="397.03" y2="228.70" stroke="#999" stroke-width="0.9"/>
<line x1="400.62" y1="226.5" x2="400.62" y2="229.80" stroke="#444" stroke-width="0.9"/>
<line x1="404.22" y1="226.5" x2="404.22" y2="228.70" stroke="#999" stroke-width="0.9"/>
<line x1="407.81" y1="226.5" x2="407.81" y2="228.70" stroke="#999" stroke-width="0.9"/>
<line x1="411.40" y1="226.5" x2="411.40" y2="228.70" stroke="#999" stroke-width="0.9"/>
<line x1="415.00" y1="226.5" x2="415.00" y2="228.70" stroke="#999" stroke-width="0.9"/>
<line x1="418.59" y1="226.5" x2="418.59" y2="229.80" stroke="#444" stroke-width="0.9"/>
<line x1="422.18" y1="226.5" x2="422.18" y2="228.70" stroke="#999" stroke-width="0.9"/>
<line x1="425.77" y1="226.5" x2="425.77" y2="228.70" stroke="#999" stroke-width="0.9"/>
<line x1="429.37" y1="226.5" x2="429.37" y2="228.70" stroke="#999" stroke-width="0.9"/>
<line x1="432.96" y1="226.5" x2="432.96" y2="228.70" stroke="#999" stroke-width="0.9"/>
<line x1="436.55" y1="226.5" x2="436.55" y2="229.80" stroke="#444" stroke-width="0.9"/>
<line x1="440.14" y1="226.5" x2="440.14" y2="228.70" stroke="#999" stroke-width="0.9"/>
<line x1="443.74" y1="226.5" x2="443.74" y2="228.70" stroke="#999" stroke-width="0.9"/>
<line x1="447.33" y1="226.5" x2="447.33" y2="228.70" stroke="#999" stroke-width="0.9"/>
<line x1="450.92" y1="226.5" x2="450.92" y2="228.70" stroke="#999" stroke-width="0.9"/>
<line x1="454.51" y1="226.5" x2="454.51" y2="229.80" stroke="#444" stroke-width="0.9"/>
<line x1="458.11" y1="226.5" x2="458.11" y2="228.70" stroke="#999" stroke-width="0.9"/>
<line x1="461.70" y1="226.5" x2="461.70" y2="228.70" stroke="#999" stroke-width="0.9"/>
<line x1="465.29" y1="226.5" x2="465.29" y2="228.70" stroke="#999" stroke-width="0.9"/>
<line x1="468.88" y1="226.5" x2="468.88" y2="228.70" stroke="#999" stroke-width="0.9"/>
<line x1="472.48" y1="226.5" x2="472.48" y2="229.80" stroke="#444" stroke-width="0.9"/>
<line x1="476.07" y1="226.5" x2="476.07" y2="228.70" stroke="#999" stroke-width="0.9"/>
<line x1="479.66" y1="226.5" x2="479.66" y2="228.70" stroke="#999" stroke-width="0.9"/>
<line x1="483.25" y1="226.5" x2="483.25" y2="228.70" stroke="#999" stroke-width="0.9"/>
<line x1="486.84" y1="226.5" x2="486.84" y2="228.70" stroke="#999" stroke-width="0.9"/>
<line x1="490.44" y1="226.5" x2="490.44" y2="229.80" stroke="#444" stroke-width="0.9"/>
<line x1="494.03" y1="226.5" x2="494.03" y2="228.70" stroke="#999" stroke-width="0.9"/>
<line x1="497.62" y1="226.5" x2="497.62" y2="228.70" stroke="#999" stroke-width="0.9"/>
<line x1="501.21" y1="226.5" x2="501.21" y2="228.70" stroke="#999" stroke-width="0.9"/>
<line x1="504.81" y1="226.5" x2="504.81" y2="228.70" stroke="#999" stroke-width="0.9"/>
<line x1="508.40" y1="226.5" x2="508.40" y2="229.80" stroke="#444" stroke-width="0.9"/>
<line x1="511.99" y1="226.5" x2="511.99" y2="228.70" stroke="#999" stroke-width="0.9"/>
<line x1="515.58" y1="226.5" x2="515.58" y2="228.70" stroke="#999" stroke-width="0.9"/>
<line x1="519.18" y1="226.5" x2="519.18" y2="228.70" stroke="#999" stroke-width="0.9"/>
<line x1="522.77" y1="226.5" x2="522.77" y2="228.70" stroke="#999" stroke-width="0.9"/>
<line x1="526.36" y1="226.5" x2="526.36" y2="229.80" stroke="#444" stroke-width="0.9"/>
<line x1="529.95" y1="226.5" x2="529.95" y2="228.70" stroke="#999" stroke-width="0.9"/>
<line x1="533.55" y1="226.5" x2="533.55" y2="228.70" stroke="#999" stroke-width="0.9"/>
<line x1="537.14" y1="226.5" x2="537.14" y2="228.70" stroke="#999" stroke-width="0.9"/>
<line x1="540.73" y1="226.5" x2="540.73" y2="228.70" stroke="#999" stroke-width="0.9"/>
<text x="0" y="0" font-size="9" text-anchor="end" fill="#222" stroke="#222" stroke-width="0.2" transform="translate(35.2 64.0) scale(0.9 1)">2000</text>
<text x="0" y="0" font-size="9" text-anchor="end" fill="#222" stroke="#222" stroke-width="0.2" transform="translate(35.2 146.6) scale(0.9 1)">1000</text>
<text x="0" y="0" font-size="9" text-anchor="middle" fill="#222" stroke="#222" stroke-width="0.2" transform="translate(79.30 240.6) scale(0.9 1)">19.000</text>
<text x="0" y="0" font-size="9" text-anchor="middle" fill="#222" stroke="#222" stroke-width="0.2" transform="translate(115.22 240.6) scale(0.9 1)">18.000</text>
<text x="0" y="0" font-size="9" text-anchor="middle" fill="#222" stroke="#222" stroke-width="0.2" transform="translate(151.15 240.6) scale(0.9 1)">17.000</text>
<text x="0" y="0" font-size="9" text-anchor="middle" fill="#222" stroke="#222" stroke-width="0.2" transform="translate(187.07 240.6) scale(0.9 1)">16.000</text>
<text x="0" y="0" font-size="9" text-anchor="middle" fill="#222" stroke="#222" stroke-width="0.2" transform="translate(223.00 240.6) scale(0.9 1)">15.000</text>
<text x="0" y="0" font-size="9" text-anchor="middle" fill="#222" stroke="#222" stroke-width="0.2" transform="translate(258.93 240.6) scale(0.9 1)">14.000</text>
<text x="0" y="0" font-size="9" text-anchor="middle" fill="#222" stroke="#222" stroke-width="0.2" transform="translate(294.85 240.6) scale(0.9 1)">13.000</text>
<text x="0" y="0" font-size="9" text-anchor="middle" fill="#222" stroke="#222" stroke-width="0.2" transform="translate(330.77 240.6) scale(0.9 1)">12.000</text>
<text x="0" y="0" font-size="9" text-anchor="middle" fill="#222" stroke="#222" stroke-width="0.2" transform="translate(366.70 240.6) scale(0.9 1)">11.000</text>
<text x="0" y="0" font-size="9" text-anchor="middle" fill="#222" stroke="#222" stroke-width="0.2" transform="translate(402.62 240.6) scale(0.9 1)">10.000</text>
<text x="0" y="0" font-size="9" text-anchor="middle" fill="#222" stroke="#222" stroke-width="0.2" transform="translate(438.55 240.6) scale(0.9 1)">9.000</text>
<text x="0" y="0" font-size="9" text-anchor="middle" fill="#222" stroke="#222" stroke-width="0.2" transform="translate(474.48 240.6) scale(0.9 1)">8.000</text>
<text x="0" y="0" font-size="9" text-anchor="middle" fill="#222" stroke="#222" stroke-width="0.2" transform="translate(510.40 240.6) scale(0.9 1)">7.000</text>
<text x="0" y="0" font-size="10.5" text-anchor="middle" fill="#222" stroke="#222" stroke-width="0.2" transform="translate(293.6 258.5) scale(1.06 1)">years cal BC</text>
<text transform="translate(9.8 132.1) rotate(-90)" x="0" y="0" font-size="11.9" text-anchor="middle" fill="#222" stroke="#222" stroke-width="0.2">altitude [m.asl.]</text>
</svg></body></html>
